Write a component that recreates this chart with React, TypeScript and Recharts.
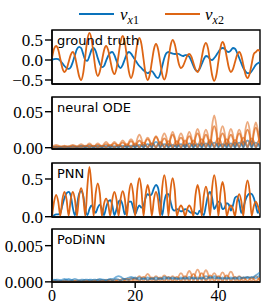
import React from 'react';
import { LineChart, Line, XAxis, YAxis, ReferenceArea } from 'recharts';

const BLUE = '#0a72bb';
const ORANGE = '#dd6514';
const SERIF = '"Liberation Serif", "DejaVu Serif", serif';
const SANS = '"DejaVu Sans", sans-serif';

// time grid 0..50, step 0.5
const timeGrid: number[] = Array.from({ length: 101 }, (_, i) => i * 0.5);
const xTicks = [0, 20, 40];

// ---- ground truth ----
const gtVx1 = [0.0, 0.02, 0.03, 0.02, -0.02, -0.08, -0.15, -0.2, -0.22, -0.18, -0.05, 0.12, 0.27, 0.33, 0.3, 0.15, 0.0, -0.02, 0.1, 0.25, 0.3, 0.22, 0.05, -0.1, -0.18, -0.15, -0.02, 0.1, 0.18, 0.2, 0.12, -0.02, -0.15, -0.2, -0.12, 0.02, 0.15, 0.2, 0.16, 0.08, 0.0, -0.08, -0.15, -0.2, -0.26, -0.3, -0.33, -0.3, -0.28, -0.34, -0.42, -0.45, -0.35, -0.15, 0.05, 0.17, 0.2, 0.18, 0.16, 0.15, 0.16, 0.15, 0.12, 0.1, 0.12, 0.12, 0.08, -0.02, -0.15, -0.25, -0.28, -0.22, -0.1, 0.02, 0.1, 0.08, 0.02, 0.0, 0.05, 0.12, 0.2, 0.27, 0.3, 0.28, 0.22, 0.2, 0.24, 0.3, 0.28, 0.18, 0.05, -0.08, -0.2, -0.28, -0.33, -0.33, -0.28, -0.2, -0.12, -0.08, -0.05];
const gtVx2 = [0.05, 0.28, 0.35, 0.255, 0.025, -0.205, -0.3, -0.227, -0.05, 0.127, 0.2, 0.098, -0.15, -0.398, -0.5, -0.328, 0.09, 0.508, 0.68, 0.522, 0.14, -0.242, -0.4, -0.29, -0.025, 0.24, 0.35, 0.248, 0.0, -0.248, -0.35, -0.211, 0.125, 0.461, 0.6, 0.447, 0.075, -0.297, -0.45, -0.304, 0.05, 0.404, 0.55, 0.397, 0.025, -0.347, -0.5, -0.369, -0.05, 0.269, 0.4, 0.27, -0.045, -0.36, -0.49, -0.345, 0.005, 0.355, 0.5, 0.398, 0.15, -0.098, -0.2, -0.149, -0.025, 0.099, 0.15, 0.084, -0.075, -0.234, -0.3, -0.193, 0.065, 0.323, 0.43, 0.291, -0.045, -0.381, -0.52, -0.378, -0.035, 0.308, 0.45, 0.34, 0.075, -0.19, -0.3, -0.227, -0.05, 0.127, 0.2, 0.105, -0.125, -0.355, -0.45, -0.348, -0.1, 0.148, 0.2, 0.25, 0.22];

// ---- neural ODE errors (ensemble) ----
const nodeVx2A = [0.001, 0.003, 0.004, 0.003, 0.001, 0.002, 0.003, 0.002, 0.001, 0.003, 0.004, 0.003, 0.001, 0.0035, 0.005, 0.0035, 0.001, 0.004, 0.006, 0.004, 0.001, 0.004, 0.006, 0.004, 0.001, 0.0055, 0.008, 0.0055, 0.001, 0.0055, 0.008, 0.0055, 0.001, 0.007, 0.01, 0.007, 0.001, 0.0085, 0.012, 0.0085, 0.001, 0.0125, 0.018, 0.0125, 0.001, 0.01, 0.014, 0.01, 0.001, 0.011, 0.016, 0.011, 0.001, 0.014, 0.02, 0.014, 0.001, 0.015, 0.022, 0.015, 0.001, 0.014, 0.02, 0.014, 0.001, 0.015, 0.022, 0.015, 0.001, 0.018, 0.026, 0.018, 0.001, 0.0175, 0.025, 0.0175, 0.001, 0.031, 0.045, 0.031, 0.001, 0.021, 0.03, 0.021, 0.001, 0.018, 0.026, 0.018, 0.001, 0.0175, 0.025, 0.0175, 0.001, 0.025, 0.036, 0.025, 0.001, 0.024, 0.035, 0.024, 0.001];
const nodeVx2B = [0.0005, 0.0014, 0.002, 0.0014, 0.0005, 0.0014, 0.002, 0.0014, 0.0005, 0.002, 0.003, 0.002, 0.0005, 0.002, 0.003, 0.002, 0.0005, 0.0028, 0.004, 0.0028, 0.0005, 0.0028, 0.004, 0.0028, 0.0005, 0.0035, 0.005, 0.0035, 0.0005, 0.0042, 0.006, 0.0042, 0.0005, 0.005, 0.007, 0.005, 0.0005, 0.0063, 0.009, 0.0063, 0.0005, 0.007, 0.01, 0.007, 0.0005, 0.0085, 0.012, 0.0085, 0.0005, 0.0105, 0.015, 0.0105, 0.0005, 0.009, 0.013, 0.009, 0.0005, 0.0125, 0.018, 0.0125, 0.0005, 0.01, 0.014, 0.01, 0.0005, 0.011, 0.016, 0.011, 0.0005, 0.014, 0.02, 0.014, 0.0005, 0.0125, 0.018, 0.0125, 0.0005, 0.021, 0.03, 0.021, 0.0005, 0.014, 0.02, 0.014, 0.0005, 0.0125, 0.018, 0.0125, 0.0005, 0.014, 0.02, 0.014, 0.0005, 0.0175, 0.025, 0.0175, 0.0005, 0.0195, 0.028, 0.0195, 0.0005];
const nodeVx2C = [0.001, 0.0007, 0.0004, 0.0014, 0.002, 0.0014, 0.0004, 0.0014, 0.002, 0.0014, 0.0004, 0.0014, 0.002, 0.0014, 0.0004, 0.002, 0.003, 0.002, 0.0004, 0.002, 0.003, 0.002, 0.0004, 0.002, 0.003, 0.002, 0.0004, 0.0028, 0.004, 0.0028, 0.0004, 0.0028, 0.004, 0.0028, 0.0004, 0.0035, 0.005, 0.0035, 0.0004, 0.0042, 0.006, 0.0042, 0.0004, 0.005, 0.007, 0.005, 0.0004, 0.0042, 0.006, 0.0042, 0.0004, 0.0056, 0.008, 0.0056, 0.0004, 0.0063, 0.009, 0.0063, 0.0004, 0.0063, 0.009, 0.0063, 0.0004, 0.007, 0.01, 0.007, 0.0004, 0.007, 0.01, 0.007, 0.0004, 0.0084, 0.012, 0.0084, 0.0004, 0.0077, 0.011, 0.0077, 0.0004, 0.009, 0.013, 0.009, 0.0004, 0.0084, 0.012, 0.0084, 0.0004, 0.0077, 0.011, 0.0077, 0.0004, 0.0098, 0.014, 0.0098, 0.0004, 0.009, 0.013, 0.009, 0.0004, 0.0084, 0.012];
const nodeVx1A = [0.0005, 0.0004, 0.0003, 0.0007, 0.001, 0.0007, 0.0003, 0.001, 0.0015, 0.001, 0.0003, 0.001, 0.0015, 0.001, 0.0003, 0.0014, 0.002, 0.0014, 0.0003, 0.0014, 0.002, 0.0014, 0.0003, 0.0014, 0.002, 0.0018, 0.0003, 0.0018, 0.0025, 0.0018, 0.0003, 0.0021, 0.003, 0.0021, 0.0003, 0.0021, 0.003, 0.0021, 0.0003, 0.0025, 0.0035, 0.0025, 0.0003, 0.0028, 0.004, 0.0028, 0.0003, 0.0042, 0.006, 0.0042, 0.0003, 0.0049, 0.007, 0.0049, 0.0003, 0.0035, 0.005, 0.0035, 0.0003, 0.0028, 0.004, 0.0028, 0.0003, 0.0028, 0.004, 0.0028, 0.0003, 0.0035, 0.005, 0.0035, 0.0003, 0.0042, 0.006, 0.0042, 0.0003, 0.0056, 0.008, 0.0056, 0.0003, 0.0042, 0.006, 0.0042, 0.0003, 0.0042, 0.006, 0.0042, 0.0003, 0.0049, 0.007, 0.0049, 0.0003, 0.0056, 0.008, 0.0056, 0.0003, 0.0063, 0.009, 0.0063, 0.0003, 0.0042, 0.006];
const nodeVx1B = [0.0003, 0.0007, 0.001, 0.0007, 0.0003, 0.0007, 0.001, 0.0007, 0.0003, 0.001, 0.0015, 0.001, 0.0003, 0.0014, 0.002, 0.0014, 0.0003, 0.0014, 0.002, 0.0014, 0.0003, 0.0014, 0.002, 0.0014, 0.0003, 0.0018, 0.0025, 0.0018, 0.0003, 0.0014, 0.002, 0.0014, 0.0003, 0.0021, 0.003, 0.0021, 0.0003, 0.0021, 0.003, 0.0021, 0.0003, 0.0028, 0.004, 0.0028, 0.0003, 0.0035, 0.005, 0.0035, 0.0003, 0.0056, 0.008, 0.0056, 0.0003, 0.0035, 0.005, 0.0035, 0.0003, 0.0028, 0.004, 0.0028, 0.0003, 0.0035, 0.005, 0.0035, 0.0003, 0.0042, 0.006, 0.0042, 0.0003, 0.0035, 0.005, 0.0035, 0.0003, 0.0042, 0.006, 0.0042, 0.0003, 0.0049, 0.007, 0.0049, 0.0003, 0.0035, 0.005, 0.0035, 0.0003, 0.0042, 0.006, 0.0042, 0.0003, 0.0049, 0.007, 0.0049, 0.0003, 0.007, 0.01, 0.007, 0.0003, 0.0049, 0.007, 0.0049, 0.0003];

// ---- PNN errors ----
const pnnVx1 = [0.0, 0.02, 0.03, 0.03, 0.05, 0.15, 0.25, 0.31, 0.33, 0.28, 0.12, 0.02, 0.15, 0.3, 0.34, 0.28, 0.1, 0.02, 0.1, 0.15, 0.1, 0.05, 0.12, 0.16, 0.1, 0.02, 0.12, 0.2, 0.22, 0.15, 0.02, 0.1, 0.2, 0.22, 0.15, 0.03, 0.12, 0.2, 0.2, 0.12, 0.03, 0.1, 0.15, 0.12, 0.15, 0.25, 0.3, 0.28, 0.3, 0.38, 0.42, 0.38, 0.2, 0.02, 0.2, 0.3, 0.3, 0.2, 0.1, 0.08, 0.1, 0.09, 0.07, 0.08, 0.1, 0.09, 0.07, 0.05, 0.06, 0.05, 0.03, 0.08, 0.05, 0.02, 0.15, 0.28, 0.33, 0.25, 0.1, 0.15, 0.2, 0.18, 0.1, 0.12, 0.18, 0.16, 0.08, 0.15, 0.25, 0.27, 0.2, 0.05, 0.12, 0.22, 0.28, 0.31, 0.3, 0.25, 0.15, 0.05, 0.15];
const pnnVx2 = [0.0, 0.2, 0.29, 0.2, 0.01, 0.23, 0.33, 0.23, 0.01, 0.23, 0.33, 0.23, 0.01, 0.27, 0.38, 0.27, 0.01, 0.4, 0.66, 0.4, 0.01, 0.31, 0.44, 0.31, 0.01, 0.17, 0.24, 0.17, 0.01, 0.23, 0.33, 0.23, 0.01, 0.24, 0.34, 0.24, 0.01, 0.31, 0.44, 0.31, 0.01, 0.36, 0.51, 0.36, 0.01, 0.29, 0.42, 0.29, 0.01, 0.23, 0.33, 0.23, 0.01, 0.39, 0.55, 0.39, 0.01, 0.36, 0.51, 0.36, 0.01, 0.1, 0.15, 0.1, 0.01, 0.1, 0.15, 0.1, 0.01, 0.29, 0.42, 0.29, 0.01, 0.28, 0.4, 0.28, 0.01, 0.39, 0.55, 0.39, 0.01, 0.32, 0.46, 0.32, 0.01, 0.1, 0.15, 0.1, 0.01, 0.21, 0.3, 0.21, 0.01, 0.34, 0.48, 0.34, 0.01, 0.14, 0.2, 0.14, 0.05];

// ---- PoDiNN errors (ensemble) ----
const podVx2A = [0.00003, 0.00014, 0.0002, 0.00014, 0.00003, 0.00014, 0.0002, 0.00014, 0.00003, 0.00014, 0.0002, 0.00014, 0.00003, 0.00014, 0.0002, 0.00014, 0.00003, 0.00014, 0.0002, 0.00014, 0.00003, 0.0002, 0.0003, 0.0002, 0.00003, 0.0002, 0.0003, 0.0002, 0.00003, 0.0002, 0.0003, 0.0002, 0.00003, 0.00028, 0.0004, 0.00028, 0.00003, 0.00035, 0.0005, 0.00035, 0.00003, 0.00056, 0.0008, 0.00056, 0.00003, 0.00077, 0.0011, 0.00077, 0.00003, 0.00056, 0.0008, 0.00056, 0.00003, 0.00063, 0.0009, 0.00063, 0.00003, 0.00056, 0.0008, 0.00056, 0.00003, 0.00084, 0.0012, 0.00084, 0.00003, 0.00105, 0.0015, 0.00105, 0.00003, 0.0012, 0.0017, 0.0012, 0.00003, 0.0011, 0.0016, 0.0011, 0.00003, 0.00084, 0.0012, 0.00084, 0.00003, 0.0009, 0.0013, 0.0009, 0.00003, 0.001, 0.0014, 0.001, 0.00003, 0.00056, 0.0008, 0.00056, 0.00003, 0.0005, 0.0007, 0.0005, 0.00003, 0.00056, 0.0008, 0.00056, 0.00003];
const podVx2B = [0.0001, 0.00007, 0.00003, 0.00007, 0.0001, 0.00007, 0.00003, 0.00007, 0.0001, 0.00007, 0.00003, 0.00014, 0.0002, 0.00014, 0.00003, 0.00014, 0.0002, 0.00014, 0.00003, 0.00014, 0.0002, 0.00014, 0.00003, 0.00014, 0.0002, 0.00014, 0.00003, 0.0002, 0.0003, 0.0002, 0.00003, 0.0002, 0.0003, 0.0002, 0.00003, 0.00028, 0.0004, 0.00028, 0.00003, 0.00035, 0.0005, 0.00035, 0.00003, 0.0005, 0.0007, 0.0005, 0.00003, 0.00042, 0.0006, 0.00042, 0.00003, 0.00042, 0.0006, 0.00042, 0.00003, 0.0005, 0.0007, 0.0005, 0.00003, 0.0005, 0.0007, 0.0005, 0.00003, 0.00056, 0.0008, 0.00056, 0.00003, 0.00077, 0.0011, 0.00077, 0.00003, 0.00084, 0.0012, 0.00084, 0.00003, 0.00063, 0.0009, 0.00063, 0.00003, 0.00056, 0.0008, 0.00056, 0.00003, 0.00063, 0.0009, 0.00063, 0.00003, 0.0005, 0.0007, 0.0005, 0.00003, 0.00042, 0.0006, 0.00042, 0.00003, 0.00042, 0.0006, 0.00042, 0.00003, 0.00035, 0.0005];
const podVx1A = [0.0001, 0.0002, 0.0003, 0.0003, 0.0002, 0.0001, 0.0002, 0.0003, 0.0004, 0.0003, 0.0002, 0.0001, 0.0001, 0.0002, 0.0003, 0.0003, 0.0002, 0.0002, 0.0003, 0.0003, 0.0002, 0.0002, 0.0003, 0.0004, 0.0003, 0.0002, 0.0002, 0.0003, 0.0004, 0.0004, 0.0005, 0.0007, 0.0008, 0.0007, 0.0005, 0.0004, 0.0005, 0.0006, 0.0007, 0.0006, 0.0004, 0.0005, 0.0006, 0.0005, 0.0004, 0.0005, 0.0006, 0.0005, 0.0004, 0.0005, 0.0006, 0.0005, 0.0004, 0.0005, 0.0007, 0.0006, 0.0004, 0.0005, 0.0006, 0.0005, 0.0004, 0.0005, 0.0006, 0.0005, 0.0004, 0.0005, 0.0007, 0.0006, 0.0004, 0.0005, 0.0006, 0.0005, 0.0004, 0.0006, 0.0008, 0.0007, 0.0005, 0.0006, 0.0008, 0.0007, 0.0005, 0.0005, 0.0006, 0.0005, 0.0004, 0.0005, 0.0006, 0.0005, 0.0004, 0.0005, 0.0007, 0.0006, 0.0005, 0.0006, 0.0007, 0.0006, 0.0005, 0.0007, 0.0009, 0.0011, 0.0013];
const podVx1B = [0.0002, 0.0003, 0.0002, 0.0001, 0.0002, 0.0003, 0.0004, 0.0003, 0.0002, 0.0002, 0.0003, 0.0004, 0.0003, 0.0002, 0.0001, 0.0002, 0.0003, 0.0003, 0.0002, 0.0002, 0.0003, 0.0003, 0.0002, 0.0002, 0.0003, 0.0003, 0.0002, 0.0003, 0.0003, 0.0002, 0.0003, 0.0004, 0.0003, 0.0002, 0.0003, 0.0004, 0.0003, 0.0003, 0.0004, 0.0005, 0.0006, 0.0004, 0.0003, 0.0004, 0.0005, 0.0004, 0.0003, 0.0004, 0.0005, 0.0004, 0.0003, 0.0004, 0.0005, 0.0004, 0.0004, 0.0005, 0.0006, 0.0005, 0.0004, 0.0005, 0.0005, 0.0004, 0.0004, 0.0005, 0.0006, 0.0005, 0.0004, 0.0005, 0.0006, 0.0005, 0.0004, 0.0005, 0.0006, 0.0005, 0.0004, 0.0005, 0.0007, 0.0006, 0.0005, 0.0005, 0.0006, 0.0005, 0.0004, 0.0005, 0.0006, 0.0005, 0.0004, 0.0005, 0.0006, 0.0005, 0.0004, 0.0005, 0.0006, 0.0006, 0.0005, 0.0006, 0.0007, 0.0006, 0.0005, 0.0007, 0.0009];

// y ticks and labels
const yTicksGT = [-0.5, 0, 0.5];
const yLabelsGT = ['\u22120.5', '0.0', '0.5'];
const yTicksNODE = [0, 0.05];
const yLabelsNODE = ['0.00', '0.05'];
const yTicksPNN = [0, 0.5];
const yLabelsPNN = ['0.0', '0.5'];
const yTicksPOD = [0, 0.005];
const yLabelsPOD = ['0.000', '0.005'];

const panelNames = ['ground truth', 'neural ODE', 'PNN', 'PoDiNN'];

type SeriesDef = { key: string; values: number[]; color: string; opacity: number };

type PanelDef = {
  top: number;
  plotH: number;
  domain: [number, number];
  ticks: number[];
  labels: string[];
  series: SeriesDef[];
  showX: boolean;
};

const panels: PanelDef[] = [
  {
    top: 30, plotH: 54, domain: [-0.6, 0.75], ticks: yTicksGT, labels: yLabelsGT, showX: false,
    series: [
      { key: 'a', values: gtVx1, color: BLUE, opacity: 1 },
      { key: 'b', values: gtVx2, color: ORANGE, opacity: 1 },
    ],
  },
  {
    top: 97, plotH: 52, domain: [-0.0018, 0.0704], ticks: yTicksNODE, labels: yLabelsNODE, showX: false,
    series: [
      { key: 'a', values: nodeVx2A, color: ORANGE, opacity: 0.55 },
      { key: 'b', values: nodeVx1A, color: BLUE, opacity: 0.6 },
      { key: 'c', values: nodeVx2B, color: ORANGE, opacity: 0.7 },
      { key: 'd', values: nodeVx1B, color: BLUE, opacity: 0.6 },
      { key: 'e', values: nodeVx2C, color: ORANGE, opacity: 0.65 },
    ],
  },
  {
    top: 163, plotH: 54, domain: [-0.004, 0.712], ticks: yTicksPNN, labels: yLabelsPNN, showX: false,
    series: [
      { key: 'a', values: pnnVx1, color: BLUE, opacity: 1 },
      { key: 'b', values: pnnVx2, color: ORANGE, opacity: 1 },
    ],
  },
  {
    top: 229, plotH: 53, domain: [-0.00002, 0.0073], ticks: yTicksPOD, labels: yLabelsPOD, showX: true,
    series: [
      { key: 'a', values: podVx2A, color: ORANGE, opacity: 0.55 },
      { key: 'b', values: podVx1A, color: BLUE, opacity: 0.55 },
      { key: 'c', values: podVx2B, color: ORANGE, opacity: 0.65 },
      { key: 'd', values: podVx1B, color: BLUE, opacity: 0.55 },
    ],
  },
];

const axisStyle = { stroke: '#000', strokeWidth: 1.4 };

function Panel({ p }: { p: PanelDef }) {
  const xAxisH = p.showX ? 21 : 11;
  const marginTop = 8;
  const height = marginTop + p.plotH + xAxisH;
  const rows = timeGrid.map((t, i) => {
    const r: Record<string, number> = { t };
    p.series.forEach((s) => {
      r[s.key] = s.values[i];
    });
    return r;
  });
  return (
    <div style={{ position: 'absolute', left: 0, top: p.top - marginTop, width: 274, height }}>
      <LineChart width={274} height={height} data={rows} margin={{ top: marginTop, right: 14, bottom: 0, left: 0 }}>
        <XAxis
          dataKey="t"
          type="number"
          domain={[0, 50]}
          ticks={xTicks}
          interval={0}
          allowDataOverflow
          height={xAxisH}
          tickSize={6}
          tickMargin={2}
          axisLine={axisStyle}
          tickLine={axisStyle}
          tick={p.showX ? { fontFamily: SERIF, fontSize: 16, fill: '#000' } : false}
        />
        <YAxis
          type="number"
          domain={p.domain}
          allowDataOverflow
          ticks={p.ticks}
          interval={0}
          width={52}
          tickSize={7}
          tickMargin={2}
          axisLine={axisStyle}
          tickLine={axisStyle}
          tickFormatter={(v: number) => {
            const idx = p.ticks.indexOf(v);
            return idx >= 0 ? p.labels[idx] : String(v);
          }}
          tick={{ fontFamily: SERIF, fontSize: 17, fill: '#000' }}
        />
        {p.series.map((s) => (
          <Line
            key={s.key}
            dataKey={s.key}
            type="monotone"
            stroke={s.color}
            strokeOpacity={s.opacity}
            strokeWidth={1.8}
            dot={false}
            isAnimationActive={false}
          />
        ))}
        <ReferenceArea
          x1={0}
          x2={50}
          y1={p.domain[0]}
          y2={p.domain[1]}
          fill="none"
          fillOpacity={0}
          stroke="#000"
          strokeWidth={1.4}
          ifOverflow="visible"
        />
      </LineChart>
    </div>
  );
}

function Overlay() {
  return (
    <svg width={274} height={304} style={{ position: 'absolute', left: 0, top: 0, pointerEvents: 'none' }}>
      <line x1={79} x2={114} y1={14} y2={14} stroke={BLUE} strokeWidth={2} />
      <text x={120} y={20} fontFamily={SERIF} fontSize={17} fill="#000">
        <tspan fontStyle="italic">v</tspan>
        <tspan fontSize={12} dy={4} fontStyle="italic">x</tspan>
        <tspan fontSize={12}>1</tspan>
      </text>
      <line x1={165} x2={200} y1={14} y2={14} stroke={ORANGE} strokeWidth={2} />
      <text x={205} y={20} fontFamily={SERIF} fontSize={17} fill="#000">
        <tspan fontStyle="italic">v</tspan>
        <tspan fontSize={12} dy={4} fontStyle="italic">x</tspan>
        <tspan fontSize={12}>2</tspan>
      </text>
      {panels.map((p, i) => (
        <text key={i} x={57} y={p.top + 15} fontFamily={SANS} fontSize={13} fill="#000">
          {panelNames[i]}
        </text>
      ))}
    </svg>
  );
}

export default function App() {
  return (
    <div style={{ position: 'absolute', left: 0, top: 0, width: 274, height: 304, background: '#fff' }}>
      {panels.map((p, i) => (
        <Panel key={i} p={p} />
      ))}
      <Overlay />
    </div>
  );
}
